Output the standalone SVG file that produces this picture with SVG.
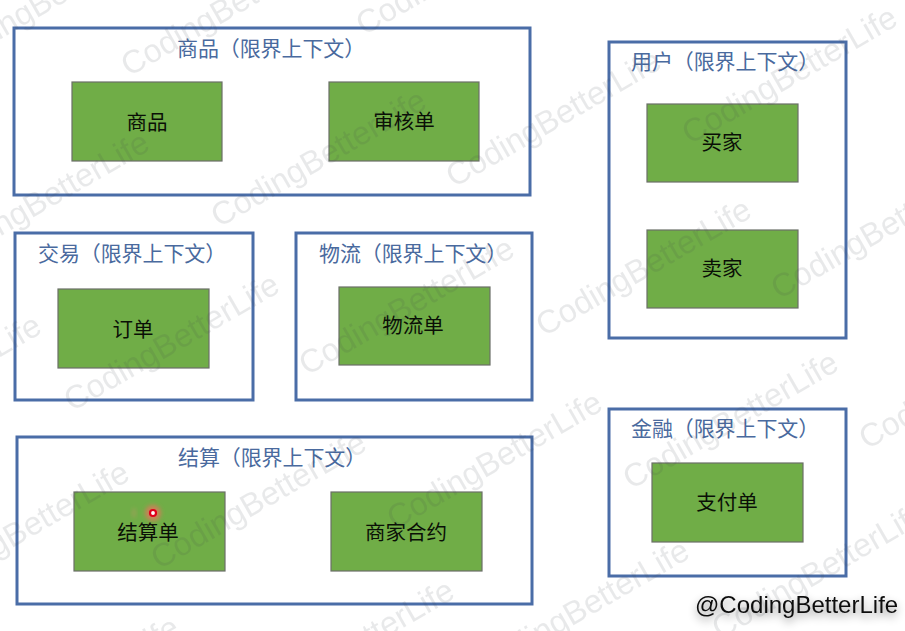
<svg xmlns="http://www.w3.org/2000/svg" width="905" height="631" viewBox="0 0 905 631">
<defs>
<filter id="halo" x="-50%" y="-50%" width="200%" height="200%"><feGaussianBlur stdDeviation="2"/></filter>
<filter id="shadow" x="-10%" y="-50%" width="120%" height="220%"><feDropShadow dx="0" dy="4" stdDeviation="4" flood-color="#000" flood-opacity=".45"/></filter>
</defs>
<style>
.ctx{fill:#fff;stroke:#4a6da7;stroke-width:3}
.box{fill:#70ad47;stroke:#6b6f68;stroke-width:1.2}
.t{font-family:"Noto Sans CJK SC","Liberation Sans",sans-serif}
.ct{fill:#4a6a9e;font-size:21px;letter-spacing:-.1px}
.bt{fill:#0a0f06;text-anchor:middle;font-size:20.5px}
.wm{font-family:"Liberation Sans",Arial,sans-serif;font-size:32.5px;fill:#3c424c;opacity:.11}
</style>
<rect width="905" height="631" fill="#fff"/>
<g id="context-goods"><rect class="ctx" x="14" y="28" width="516" height="167"/><text class="t ct" x="177" y="56">商品（限界上下文）</text>
<g id="node-goods"><rect class="box" x="72" y="82" width="150" height="79"/><text class="t bt" x="147" y="130">商品</text></g>
<g id="node-audit"><rect class="box" x="329" y="82" width="150" height="79"/><text class="t bt" x="404" y="129">审核单</text></g></g>
<g id="context-trade"><rect class="ctx" x="15" y="233" width="238" height="167"/><text class="t ct" x="38" y="261">交易（限界上下文）</text>
<g id="node-order"><rect class="box" x="58" y="289" width="151" height="79"/><text class="t bt" x="133" y="337">订单</text></g></g>
<g id="context-logistics"><rect class="ctx" x="296" y="233" width="236" height="167"/><text class="t ct" x="319" y="261">物流（限界上下文）</text>
<g id="node-shipping"><rect class="box" x="339" y="287" width="151" height="78"/><text class="t bt" x="413" y="333">物流单</text></g></g>
<g id="context-settle"><rect class="ctx" x="17" y="437" width="515" height="167"/><text class="t ct" x="178" y="465">结算（限界上下文）</text>
<g id="node-settle"><rect class="box" x="74" y="492" width="151" height="79"/><text class="t bt" x="148" y="540">结算单</text></g>
<g id="node-contract"><rect class="box" x="331" y="492" width="151" height="79"/><text class="t bt" x="406" y="540">商家合约</text></g></g>
<g id="context-user"><rect class="ctx" x="609" y="42" width="237" height="296"/><text class="t ct" x="631" y="69">用户（限界上下文）</text>
<g id="node-buyer"><rect class="box" x="647" y="104" width="151" height="78"/><text class="t bt" x="722" y="150">买家</text></g>
<g id="node-seller"><rect class="box" x="647" y="230" width="151" height="78"/><text class="t bt" x="722" y="276">卖家</text></g></g>
<g id="context-finance"><rect class="ctx" x="609" y="409" width="237" height="167"/><text class="t ct" x="631" y="436">金融（限界上下文）</text>
<g id="node-pay"><rect class="box" x="652" y="463" width="151" height="79"/><text class="t bt" x="727" y="510">支付单</text></g></g>
<g id="connectors"></g>
<g id="cursor"><ellipse cx="134" cy="513" rx="2" ry="5" fill="#f08a7a" opacity=".3" filter="url(#halo)"/><circle cx="153" cy="513" r="8" fill="#f0705f" opacity=".7" filter="url(#halo)"/><circle cx="153" cy="513" r="3" fill="#fff" stroke="#e0001a" stroke-width="2.2"/></g>
<g id="watermarks">
<text class="wm" transform="translate(-53 70) rotate(-30)">CodingBetterLife</text>
<text class="wm" transform="translate(129 77) rotate(-30)">CodingBetterLife</text>
<text class="wm" transform="translate(364 36) rotate(-30)">CodingBetterLife</text>
<text class="wm" transform="translate(602 -5) rotate(-30)">CodingBetterLife</text>
<text class="wm" transform="translate(-58 270) rotate(-30)">CodingBetterLife</text>
<text class="wm" transform="translate(219 228) rotate(-30)">CodingBetterLife</text>
<text class="wm" transform="translate(454 188) rotate(-30)">CodingBetterLife</text>
<text class="wm" transform="translate(690 145) rotate(-30)">CodingBetterLife</text>
<text class="wm" transform="translate(-166 453) rotate(-30)">CodingBetterLife</text>
<text class="wm" transform="translate(72 412) rotate(-30)">CodingBetterLife</text>
<text class="wm" transform="translate(307 376) rotate(-30)">CodingBetterLife</text>
<text class="wm" transform="translate(544 337) rotate(-30)">CodingBetterLife</text>
<text class="wm" transform="translate(779 300) rotate(-30)">CodingBetterLife</text>
<text class="wm" transform="translate(-78 600) rotate(-30)">CodingBetterLife</text>
<text class="wm" transform="translate(159 570) rotate(-30)">CodingBetterLife</text>
<text class="wm" transform="translate(395 530) rotate(-30)">CodingBetterLife</text>
<text class="wm" transform="translate(631 490) rotate(-30)">CodingBetterLife</text>
<text class="wm" transform="translate(867 450) rotate(-30)">CodingBetterLife</text>
<text class="wm" transform="translate(-28 755) rotate(-30)">CodingBetterLife</text>
<text class="wm" transform="translate(247 718) rotate(-30)">CodingBetterLife</text>
<text class="wm" transform="translate(482 678) rotate(-30)">CodingBetterLife</text>
<text class="wm" transform="translate(720 640) rotate(-30)">CodingBetterLife</text>
</g>
<text id="credit" x="695" y="613" font-family="Liberation Sans,Arial,sans-serif" font-size="24" fill="#111" filter="url(#shadow)">@CodingBetterLife</text>
</svg>
